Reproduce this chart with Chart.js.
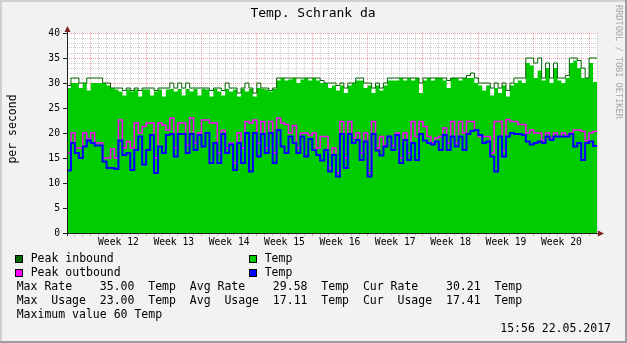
<!DOCTYPE html>
<html>
<head>
<meta charset="utf-8">
<script src="https://cdn.jsdelivr.net/npm/chart.js@4.4.1/dist/chart.umd.min.js"></script>
<style>
  html, body { margin: 0; padding: 0; background: #f2f2f2; }
  canvas { display: block; }
</style>
</head>
<body>
<canvas id="mrtg" width="627" height="343"></canvas>
<script>
// ---- data (one sample every half day, 67 days shown) ----
const STEP = 0.5;
const SPAN = 67;
const WEEK_START = 3;   // day offset of the first week boundary (Week 12)
const WEEKS = ['Week 12', 'Week 13', 'Week 14', 'Week 15', 'Week 16', 'Week 17', 'Week 18', 'Week 19', 'Week 20'];
const Y_LABELS = [0, 5, 10, 15, 20, 25, 30, 35, 40];

const AVG_IN = [
  29, 30, 30, 29, 30, 28.5, 30, 30, 30, 30, 29.5, 29,
  28.7, 28.3, 27.5, 28.7, 28.3, 28.7, 27.3, 28.7, 28.7, 27.5, 28.3, 28.7,
  27.3, 28.7, 28.8, 28.3, 28.8, 27.5, 28.8, 28.3, 28.8, 27.5, 28.8, 28.7,
  27.3, 28.8, 28.3, 27.5, 28.8, 28.3, 28.7, 27.3, 28.8, 28.3, 28.8, 27.3,
  29, 28.8, 28.7, 28.3, 28.8, 30.5, 31, 30.5, 30.7, 31, 30, 30.7,
  31, 30.5, 31, 30.5, 30, 30, 29, 29.5, 28.5, 29.5, 28, 29.5,
  30, 30.5, 30.5, 29, 29.5, 28, 29.5, 28.5, 29.5, 30.5, 30.5, 30.5,
  31, 30.5, 31, 30.5, 31, 28, 30.5, 31, 30.5, 31, 31, 30.5,
  29, 31, 31, 30.5, 31, 31, 31, 30, 29.5, 28.5, 29.5, 27.5,
  29, 28, 29.5, 27.3, 29.5, 30, 30.5, 30, 34, 33.5, 31, 32.5,
  30.5, 33, 30, 33, 30.5, 30, 31, 34, 34.5, 33, 31, 31,
  34, 30.2,
];
const PEAK_IN = [
  29.5, 31, 31, 30, 30, 31, 31, 31, 31, 30, 30, 29,
  29, 29, 28.5, 29, 28.5, 29, 28.5, 29, 29, 29, 28.5, 29,
  29, 29, 30, 29, 30, 29, 30, 29, 29, 29, 29, 29,
  28.5, 29, 29, 28.5, 30, 29, 29, 28, 29, 30, 29, 28,
  30, 29, 29, 28.5, 29, 31, 31, 31, 31, 31, 31, 31,
  31, 31, 31, 31, 30.5, 30, 30, 30, 29.5, 30, 29, 30,
  30, 31, 31, 30, 30, 29, 30, 29, 30, 31, 31, 31,
  31, 31, 31, 31, 31, 30, 31, 31, 31, 31, 31, 31,
  30.5, 31, 31, 31, 31, 31.5, 32, 31, 30, 30, 30, 29,
  30, 29, 30, 28.5, 30, 31, 31, 31, 35, 35, 34, 35,
  31, 34, 31, 34, 31, 31, 31.5, 35, 35, 34.5, 33, 31,
  35, 35,
];
const AVG_OUT = [
  12.5, 18, 16, 15, 17.3, 18.5, 18, 17.5, 17.5, 14.3, 13, 13,
  12.8, 18.5, 15.6, 16, 12.6, 16.6, 19.3, 13.7, 16.6, 19.6, 12, 17.3,
  16, 19.6, 19.8, 15.3, 19.8, 19.8, 16, 19.8, 16.6, 19.6, 17.3, 20,
  14, 18, 14, 19.8, 16, 17.7, 12.6, 18, 14, 20, 12.3, 20,
  15.3, 19.8, 16, 20, 14, 20.6, 17.3, 16, 19.3, 18, 16, 19.3,
  15.3, 18.8, 16.6, 15.6, 14.5, 16.6, 12.3, 15.6, 11.3, 19.8, 13, 19.8,
  18, 18.6, 14.6, 18.3, 11.3, 19.8, 16.5, 15.5, 17.3, 19.3, 16.6, 19.6,
  14, 18.6, 14.6, 18, 14.6, 19.8, 18.5, 18, 17.7, 18.3, 16.6, 19.6,
  16.6, 19.3, 17.3, 19.3, 16.6, 19.8, 20.4, 20.6, 19.6, 18, 18.3, 15.3,
  12.3, 19.3, 15.3, 19.3, 20, 19.8, 19.8, 19.6, 18.3, 17.7, 18, 18.3,
  18, 19.3, 18.6, 19.3, 19.3, 19.3, 19.3, 19.8, 17.3, 18, 14.6, 18,
  18.3, 17.4,
];
const PEAK_OUT = [
  16, 20, 17, 17, 20, 18.8, 20, 18, 18, 15, 15, 16.8,
  15, 22.6, 17, 18.3, 17, 22, 20, 21.3, 22, 22, 15, 22,
  21.6, 20.6, 23, 17, 22, 22, 17.5, 23, 18, 20, 22.6, 22.6,
  22, 22, 16, 20.5, 17, 18, 14, 20, 17, 22.3, 22, 22.6,
  18, 22.3, 17, 22.3, 16, 23, 22, 21.7, 20, 21.5, 17, 20,
  20, 19.5, 20, 17, 19.3, 19.3, 13, 17, 12, 22.3, 15, 22.3,
  19, 20, 16, 20, 12, 22.3, 17, 19.3, 17.5, 19.3, 17.5, 20,
  15, 20, 16, 22.3, 19.3, 22.3, 21.3, 19.3, 18, 19, 19.3, 21,
  18, 22.3, 18, 22.3, 20, 22.3, 22.3, 20.6, 19.3, 19.3, 19.3, 16,
  22.3, 22.3, 16.5, 22.7, 22.3, 22.3, 21.7, 21.7, 20, 20.6, 20, 20,
  18.5, 20, 19, 20, 19.3, 20, 19.5, 20, 20.6, 20.6, 20.3, 18.5,
  20, 20.3,
];

const TITLE = 'Temp. Schrank da';
const Y_TITLE = 'per second';
const WATERMARK = 'RRDTOOL / TOBI OETIKER';
const STATS = [
  'Max Rate    35.00  Temp  Avg Rate    29.58  Temp  Cur Rate    30.21  Temp',
  'Max  Usage  23.00  Temp  Avg  Usage  17.11  Temp  Cur  Usage  17.41  Temp',
  'Maximum value 60 Temp',
];
const STAMP = '15:56 22.05.2017';

// ---- look ----
const C = {
  back: '#f2f2f2', shadeA: '#cfcfcf', shadeB: '#9e9e9e', canvas: '#ffffff',
  grid: 'rgba(143,143,143,0.45)', mgrid: 'rgba(222,79,79,0.55)',
  axis: '#1f1f1f', arrow: '#801f1f', font: '#000000',
  inAvg: '#00cc00', inPeak: '#006600', outAvg: '#0000ff', outPeak: '#ff00ff',
};
const MONO = '"DejaVu Sans Mono", "Liberation Mono", monospace';

const series = arr => arr.map((v, i) => ({ x: i * STEP, y: v }))
  .concat([{ x: SPAN, y: arr[arr.length - 1] }]);
const range = (a, b) => Array.from({ length: b - a + 1 }, (_, i) => a + i);
const isWeek = d => d > 0 && (d - WEEK_START) % 7 === 0;
const isMajorY = v => v % 5 === 0;

const rrdPlugin = {
  id: 'rrd',
  beforeDraw(chart) {
    const { ctx, chartArea: a, width: W, height: H } = chart;
    ctx.save();
    ctx.fillStyle = C.back;
    ctx.fillRect(0, 0, W, H);
    ctx.fillStyle = C.shadeA;
    ctx.fillRect(0, 0, W, 2);
    ctx.fillRect(0, 0, 2, H);
    ctx.fillStyle = C.shadeB;
    ctx.fillRect(0, H - 2, W, 2);
    ctx.fillRect(W - 2, 0, 2, H);
    ctx.fillStyle = C.canvas;
    ctx.fillRect(a.left, a.top, a.right - a.left, a.bottom - a.top);
    ctx.restore();
  },
  afterDraw(chart) {
    const { ctx, chartArea: a, scales } = chart;
    ctx.save();

    // axes with arrows
    ctx.strokeStyle = C.axis;
    ctx.lineWidth = 1;
    ctx.beginPath();
    ctx.moveTo(a.left + 0.5, a.bottom + 3);
    ctx.lineTo(a.left + 0.5, a.top - 3);
    ctx.moveTo(a.left - 3, a.bottom + 0.5);
    ctx.lineTo(a.right + 3, a.bottom + 0.5);
    ctx.stroke();
    ctx.fillStyle = C.arrow;
    ctx.beginPath();
    ctx.moveTo(a.left + 0.5, a.top - 7);
    ctx.lineTo(a.left - 2.5, a.top - 1);
    ctx.lineTo(a.left + 3.5, a.top - 1);
    ctx.closePath();
    ctx.fill();
    ctx.beginPath();
    ctx.moveTo(a.right + 7, a.bottom + 0.5);
    ctx.lineTo(a.right + 1, a.bottom - 2.5);
    ctx.lineTo(a.right + 1, a.bottom + 3.5);
    ctx.closePath();
    ctx.fill();

    ctx.fillStyle = C.font;
    ctx.textBaseline = 'middle';

    // title
    ctx.font = '13px ' + MONO;
    ctx.textAlign = 'center';
    ctx.fillText(TITLE, 313, 14);

    // week labels, centred inside each week
    ctx.font = '9.7px ' + MONO;
    WEEKS.forEach((w, k) => {
      const x = scales.x.getPixelForValue(WEEK_START + 7 * k + 3.5);
      ctx.fillText(w, x, 242);
    });

    // vertical unit label
    ctx.save();
    ctx.translate(13, 129);
    ctx.rotate(-Math.PI / 2);
    ctx.font = '11.5px ' + MONO;
    ctx.fillText(Y_TITLE, 0, 0);
    ctx.restore();

    // watermark
    ctx.save();
    ctx.translate(618.5, 5);
    ctx.rotate(Math.PI / 2);
    ctx.font = '8.6px ' + MONO;
    ctx.fillStyle = '#a8a8a8';
    ctx.textAlign = 'left';
    ctx.fillText(WATERMARK, 0, 0);
    ctx.restore();

    // legend
    ctx.font = '11.5px ' + MONO;
    ctx.textAlign = 'left';
    const ds = chart.data.datasets;
    const items = [
      { d: ds[2], x: 15, y: 259 }, { d: ds[3], x: 249, y: 259 },
      { d: ds[1], x: 15, y: 273 }, { d: ds[0], x: 249, y: 273 },
    ];
    items.forEach(it => {
      ctx.fillStyle = it.d.legendColor;
      ctx.fillRect(it.x, it.y - 4, 8, 8);
      ctx.strokeStyle = '#000';
      ctx.strokeRect(it.x + 0.5, it.y - 3.5, 7, 7);
      ctx.fillStyle = C.font;
      ctx.fillText(it.d.label, it.x + 15.7, it.y);
    });
    STATS.forEach((s, i) => ctx.fillText(s, 16.7, 287.3 + 14 * i));
    ctx.textAlign = 'right';
    ctx.fillText(STAMP, 611, 329.3);

    ctx.restore();
  },
};

const lineBase = { stepped: 'before', pointRadius: 0, tension: 0, fill: false };

new Chart(document.getElementById('mrtg'), {
  type: 'line',
  data: {
    datasets: [
      { ...lineBase, label: 'Temp', data: series(AVG_OUT), borderColor: C.outAvg, legendColor: C.outAvg, borderWidth: 2, order: 1 },
      { ...lineBase, label: 'Peak outbound', data: series(PEAK_OUT), borderColor: C.outPeak, legendColor: C.outPeak, borderWidth: 1.5, order: 2 },
      { ...lineBase, label: 'Peak inbound', data: series(PEAK_IN), borderColor: C.inPeak, legendColor: C.inPeak, borderWidth: 1, order: 3 },
      { ...lineBase, label: 'Temp', data: series(AVG_IN), borderColor: 'transparent', backgroundColor: C.inAvg,
        legendColor: C.inAvg, borderWidth: 0, fill: 'origin', order: 4 },
    ],
  },
  options: {
    responsive: false,
    animation: false,
    events: [],
    layout: { padding: { left: 0, right: 30, top: 33, bottom: 110 } },
    plugins: { legend: { display: false }, tooltip: { enabled: false } },
    scales: {
      x: {
        type: 'linear', min: 0, max: SPAN, z: 1,
        afterFit: s => { s.height = 0; },
        afterBuildTicks: s => { s.ticks = range(0, SPAN).map(v => ({ value: v })); },
        ticks: { display: false },
        grid: {
          color: c => (c.tick.value === 0 ? 'transparent' : isWeek(c.tick.value) ? C.mgrid : C.grid),
          tickColor: c => (isWeek(c.tick.value) ? C.mgrid : C.grid),
          tickLength: 3, lineWidth: 1, borderDash: [1, 1], tickBorderDash: [],
        },
        border: { display: false, dash: [1, 1] },
      },
      y: {
        min: 0, max: 40, z: 1,
        afterFit: s => { s.width = 67; },
        afterBuildTicks: s => { s.ticks = range(Y_LABELS[0], Y_LABELS[Y_LABELS.length - 1]).map(v => ({ value: v })); },
        ticks: {
          autoSkip: false, padding: 3, color: C.font,
          font: { family: MONO, size: 9.7 },
          callback: v => (Y_LABELS.includes(v) ? String(v) : ''),
        },
        grid: {
          color: c => (c.tick.value === 0 ? 'transparent' : isMajorY(c.tick.value) ? C.mgrid : C.grid),
          tickColor: c => (isMajorY(c.tick.value) ? C.axis : 'transparent'),
          tickLength: 4, lineWidth: 1, borderDash: [1, 1], tickBorderDash: [],
        },
        border: { display: false, dash: [1, 1] },
      },
    },
  },
  plugins: [rrdPlugin],
});
</script>
</body>
</html>
